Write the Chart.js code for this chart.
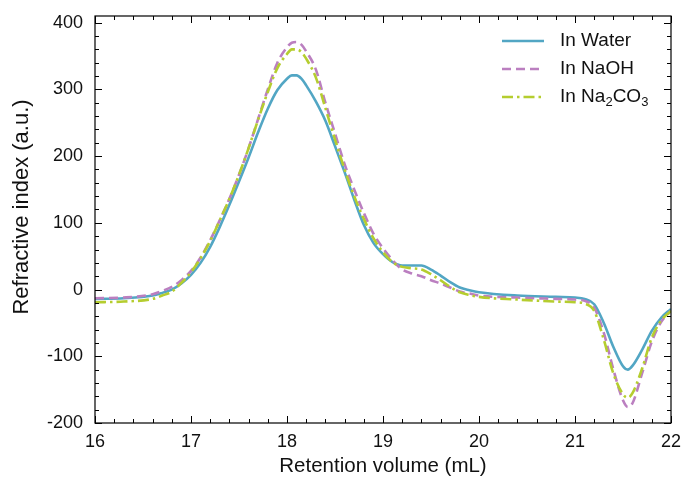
<!DOCTYPE html>
<html>
<head>
<meta charset="utf-8">
<script src="https://cdn.jsdelivr.net/npm/chart.js@4.4.1/dist/chart.umd.min.js"></script>
<style>
  html, body { margin: 0; padding: 0; background: #fff; }
  #wrap { width: 683px; height: 480px; position: relative; }
</style>
</head>
<body>
<div id="wrap"><canvas id="c" width="683" height="480"></canvas></div>
<script>
// ---- data ----
const retentionVolume = [16.0, 16.3, 16.6, 16.7, 16.8, 16.9, 17.0, 17.1, 17.2, 17.3, 17.4, 17.5, 17.6, 17.7, 17.8, 17.9, 18.0, 18.05, 18.1, 18.15, 18.2, 18.3, 18.4, 18.5, 18.6, 18.7, 18.8, 18.9, 19.0, 19.1, 19.2, 19.3, 19.4, 19.5, 19.6, 19.7, 19.8, 19.9, 20.0, 20.4, 20.8, 21.0, 21.1, 21.2, 21.3, 21.4, 21.5, 21.55, 21.6, 21.7, 21.8, 21.9, 22.0];
const riWater  = [-14, -13, -9, -5, 0, 9, 22, 40, 64, 94, 127, 162, 198, 236, 271, 299, 316, 321, 321, 316, 306, 282, 253, 215, 176, 135, 97, 70, 53, 41, 36, 36, 36, 30, 21, 11, 3, -1, -4, -9, -11, -12, -14, -22, -50, -86, -115, -120, -114, -90, -62, -42, -29];
const riNaOH   = [-13, -12, -7, -2, 4, 14, 28, 48, 74, 104, 136, 172, 212, 256, 300, 340, 363, 370, 371, 367, 357, 330, 280, 234, 188, 150, 115, 84, 62, 44, 30, 24, 20, 14, 9, 3, -3, -6, -9, -12, -14, -15, -17, -27, -65, -120, -166, -176, -170, -125, -78, -48, -32];
const riNa2CO3 = [-19, -18, -14, -9, -3, 10, 26, 47, 73, 104, 136, 172, 212, 255, 296, 332, 353, 360, 360, 356, 346, 318, 272, 225, 180, 140, 106, 77, 56, 41, 34, 32, 30, 23, 14, 4, -4, -8, -11, -15, -18, -19, -21, -32, -75, -126, -157, -162, -155, -118, -72, -46, -32];
const seriesLabels = ['In Water', 'In NaOH', 'In Na2CO3'];
const xTickLabels = [16, 17, 18, 19, 20, 21, 22];
const yTickLabels = [-200, -100, 0, 100, 200, 300, 400];
const xTitle = 'Retention volume (mL)';
const yTitle = 'Refractive index (a.u.)';
const xMinorStep = 0.2;
const yMinorStep = 20;
const xRange = [16, 22];
const yRange = [-200, 410];

const FONT = '"Liberation Sans", Arial, Helvetica, sans-serif';
const TEXT = '#111';
const colors = ['#52a6c4', '#bb7fc0', '#b5cd2f'];
const dashes = [[], [9, 5], [11, 4, 2.5, 4]];

const pts = ys => retentionVolume.map((x, i) => ({ x, y: ys[i] }));

const frameTicks = {
  id: 'frameTicks',
  afterDatasetsDraw(chart) {
    const { ctx, chartArea: a, scales: { x, y } } = chart;
    ctx.save();
    ctx.strokeStyle = '#000';
    ctx.lineWidth = 1.2;
    ctx.setLineDash([]);
    ctx.strokeRect(a.left, a.top, a.right - a.left, a.bottom - a.top);
    ctx.lineWidth = 1;
    const majorLen = 7, minorLen = 4;
    const nx = Math.round((xRange[1] - xRange[0]) / xMinorStep);
    for (let i = 0; i <= nx; i++) {
      const v = xRange[0] + i * xMinorStep;
      const isMajor = xTickLabels.some(t => Math.abs(t - v) < 1e-6);
      const len = isMajor ? majorLen : minorLen;
      const px = Math.round(x.getPixelForValue(v)) + 0.5;
      ctx.beginPath();
      ctx.moveTo(px, a.bottom); ctx.lineTo(px, a.bottom - len);
      ctx.moveTo(px, a.top); ctx.lineTo(px, a.top + len);
      ctx.stroke();
    }
    const ny = Math.floor((yRange[1] - yRange[0]) / yMinorStep + 1e-6);
    for (let i = 0; i <= ny; i++) {
      const v = yRange[0] + i * yMinorStep;
      const isMajor = yTickLabels.some(t => Math.abs(t - v) < 1e-6);
      const len = isMajor ? majorLen : minorLen;
      const py = Math.round(y.getPixelForValue(v)) + 0.5;
      ctx.beginPath();
      ctx.moveTo(a.left, py); ctx.lineTo(a.left + len, py);
      ctx.moveTo(a.right, py); ctx.lineTo(a.right - len, py);
      ctx.stroke();
    }
    ctx.restore();
  }
};

const yAxisTitle = {
  id: 'yAxisTitle',
  afterDraw(chart) {
    const { ctx } = chart;
    ctx.save();
    ctx.translate(22, 207);
    ctx.rotate(-Math.PI / 2);
    ctx.fillStyle = TEXT;
    ctx.font = '22px ' + FONT;
    ctx.textAlign = 'center';
    ctx.textBaseline = 'middle';
    ctx.fillText(yTitle, 0, 0);
    ctx.restore();
  }
};

const customLegend = {
  id: 'customLegend',
  afterDraw(chart) {
    const { ctx } = chart;
    ctx.save();
    const x0 = 502, x1 = 544, tx = 560, y0 = 41, dy = 28;
    chart.data.datasets.forEach((ds, i) => {
      const yy = y0 + i * dy;
      ctx.strokeStyle = ds.borderColor;
      ctx.lineWidth = ds.borderWidth;
      ctx.setLineDash(ds.borderDash || []);
      ctx.beginPath(); ctx.moveTo(x0, yy); ctx.lineTo(x1, yy); ctx.stroke();
      ctx.setLineDash([]);
      ctx.fillStyle = TEXT;
      ctx.textBaseline = 'middle';
      ctx.textAlign = 'left';
      const label = seriesLabels[i];
      const parts = label.match(/(\d+|\D+)/g);
      let cx = tx;
      parts.forEach((p, k) => {
        const sub = /^\d+$/.test(p) && k > 0;
        ctx.font = (sub ? '13px ' : '19px ') + FONT;
        ctx.fillText(p, cx, yy + (sub ? 5 : 0));
        cx += ctx.measureText(p).width;
      });
    });
    ctx.restore();
  }
};

new Chart(document.getElementById('c'), {
  type: 'line',
  data: {
    datasets: [
      { label: seriesLabels[0], data: pts(riWater), borderColor: colors[0], borderDash: dashes[0], borderWidth: 2.6, order: 2 },
      { label: seriesLabels[1], data: pts(riNaOH), borderColor: colors[1], borderDash: dashes[1], borderWidth: 2.6, order: 1 },
      { label: seriesLabels[2], data: pts(riNa2CO3), borderColor: colors[2], borderDash: dashes[2], borderWidth: 2.6, order: 0 }
    ]
  },
  options: {
    responsive: false,
    animation: false,
    devicePixelRatio: 1,
    layout: { padding: { left: 0, right: 12, top: 16, bottom: 0 } },
    elements: { point: { radius: 0 }, line: { cubicInterpolationMode: 'monotone', fill: false } },
    plugins: { legend: { display: false }, tooltip: { enabled: false } },
    scales: {
      x: {
        type: 'linear', min: xRange[0], max: xRange[1],
        grid: { display: false, drawTicks: false },
        border: { display: false },
        afterBuildTicks: s => { s.ticks = xTickLabels.map(v => ({ value: v })); },
        afterFit: s => { s.height = 57; s.paddingLeft = 0; s.paddingRight = 0; },
        ticks: { color: TEXT, font: { family: FONT, size: 18 }, padding: 8, maxRotation: 0, autoSkip: false },
        title: { display: true, text: xTitle, color: TEXT, font: { family: FONT, size: 20.5 }, padding: { top: 0, bottom: 1 } }
      },
      y: {
        type: 'linear', min: yRange[0], max: yRange[1],
        grid: { display: false, drawTicks: false },
        border: { display: false },
        afterBuildTicks: s => { s.ticks = yTickLabels.map(v => ({ value: v })); },
        afterFit: s => { s.width = 95; s.paddingTop = 0; s.paddingBottom = 0; },
        ticks: { color: TEXT, font: { family: FONT, size: 18 }, padding: 12, autoSkip: false },
        title: { display: false, text: yTitle }
      }
    }
  },
  plugins: [frameTicks, yAxisTitle, customLegend]
});
</script>
</body>
</html>
